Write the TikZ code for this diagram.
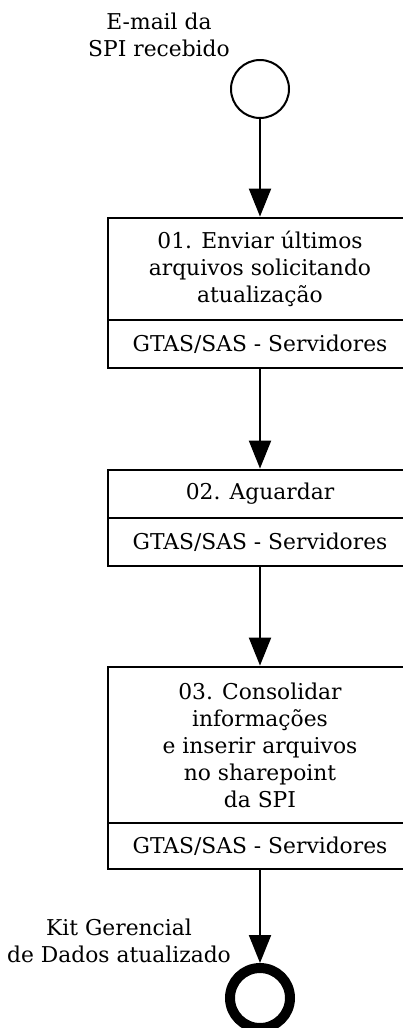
\documentclass[tikz,border=0pt]{standalone}
\usepackage{fontspec}
\setmainfont{DejaVu Serif}
\usetikzlibrary{arrows.meta}
\tikzset{
  x=1pt, y=1pt,
  every node/.style={font=\fontsize{21.8}{27}\selectfont, align=center, inner sep=0pt},
  startev/.style={circle, draw, line width=2pt, minimum size=58pt},
  endev/.style={circle, draw, line width=10pt, minimum size=60pt},
  taskbox/.style={rectangle, draw, line width=2.8pt, minimum width=304pt},
  rolebox/.style={rectangle, draw, line width=2.8pt, minimum width=304pt, minimum height=48pt},
  flow/.style={line width=2pt, -{Triangle[length=28pt, width=22pt]}},
  evlabel/.style={font=\fontsize{21.8}{27}\selectfont}
}
\begin{document}
\begin{tikzpicture}
\useasboundingbox (0,0) rectangle (403,-1028);
\clip (0,0) rectangle (403,-1028);

% start event
\node[startev] (start) at (260,-89) {};
\node[evlabel] (startlbl) at (159,-35) {E-mail da\\SPI recebido};

% task 01
\node[taskbox, minimum height=102pt] (t1) at (260,-269) {01. Enviar últimos\\arquivos solicitando\\atualização};
\node[rolebox] (r1) at (260,-344) {GTAS/SAS - Servidores};

% task 02
\node[taskbox, minimum height=48pt] (t2) at (260,-494) {02. Aguardar};
\node[rolebox] (r2) at (260,-542) {GTAS/SAS - Servidores};

% task 03
\node[taskbox, minimum height=156pt] (t3) at (260,-745) {03. Consolidar\\informações\\e inserir arquivos\\no sharepoint\\da SPI};
\node[rolebox, minimum height=46pt] (r3) at (260,-846) {GTAS/SAS - Servidores};

% end event
\node[endev] (end) at (260,-998) {};
\node[evlabel] (endlbl) at (119,-941) {Kit Gerencial\\de Dados atualizado};

% sequence flows
\draw[flow] (start) -- (t1);
\draw[flow] (r1) -- (t2);
\draw[flow] (r2) -- (t3);
\draw[flow] (r3) -- (end);
\end{tikzpicture}
\end{document}
